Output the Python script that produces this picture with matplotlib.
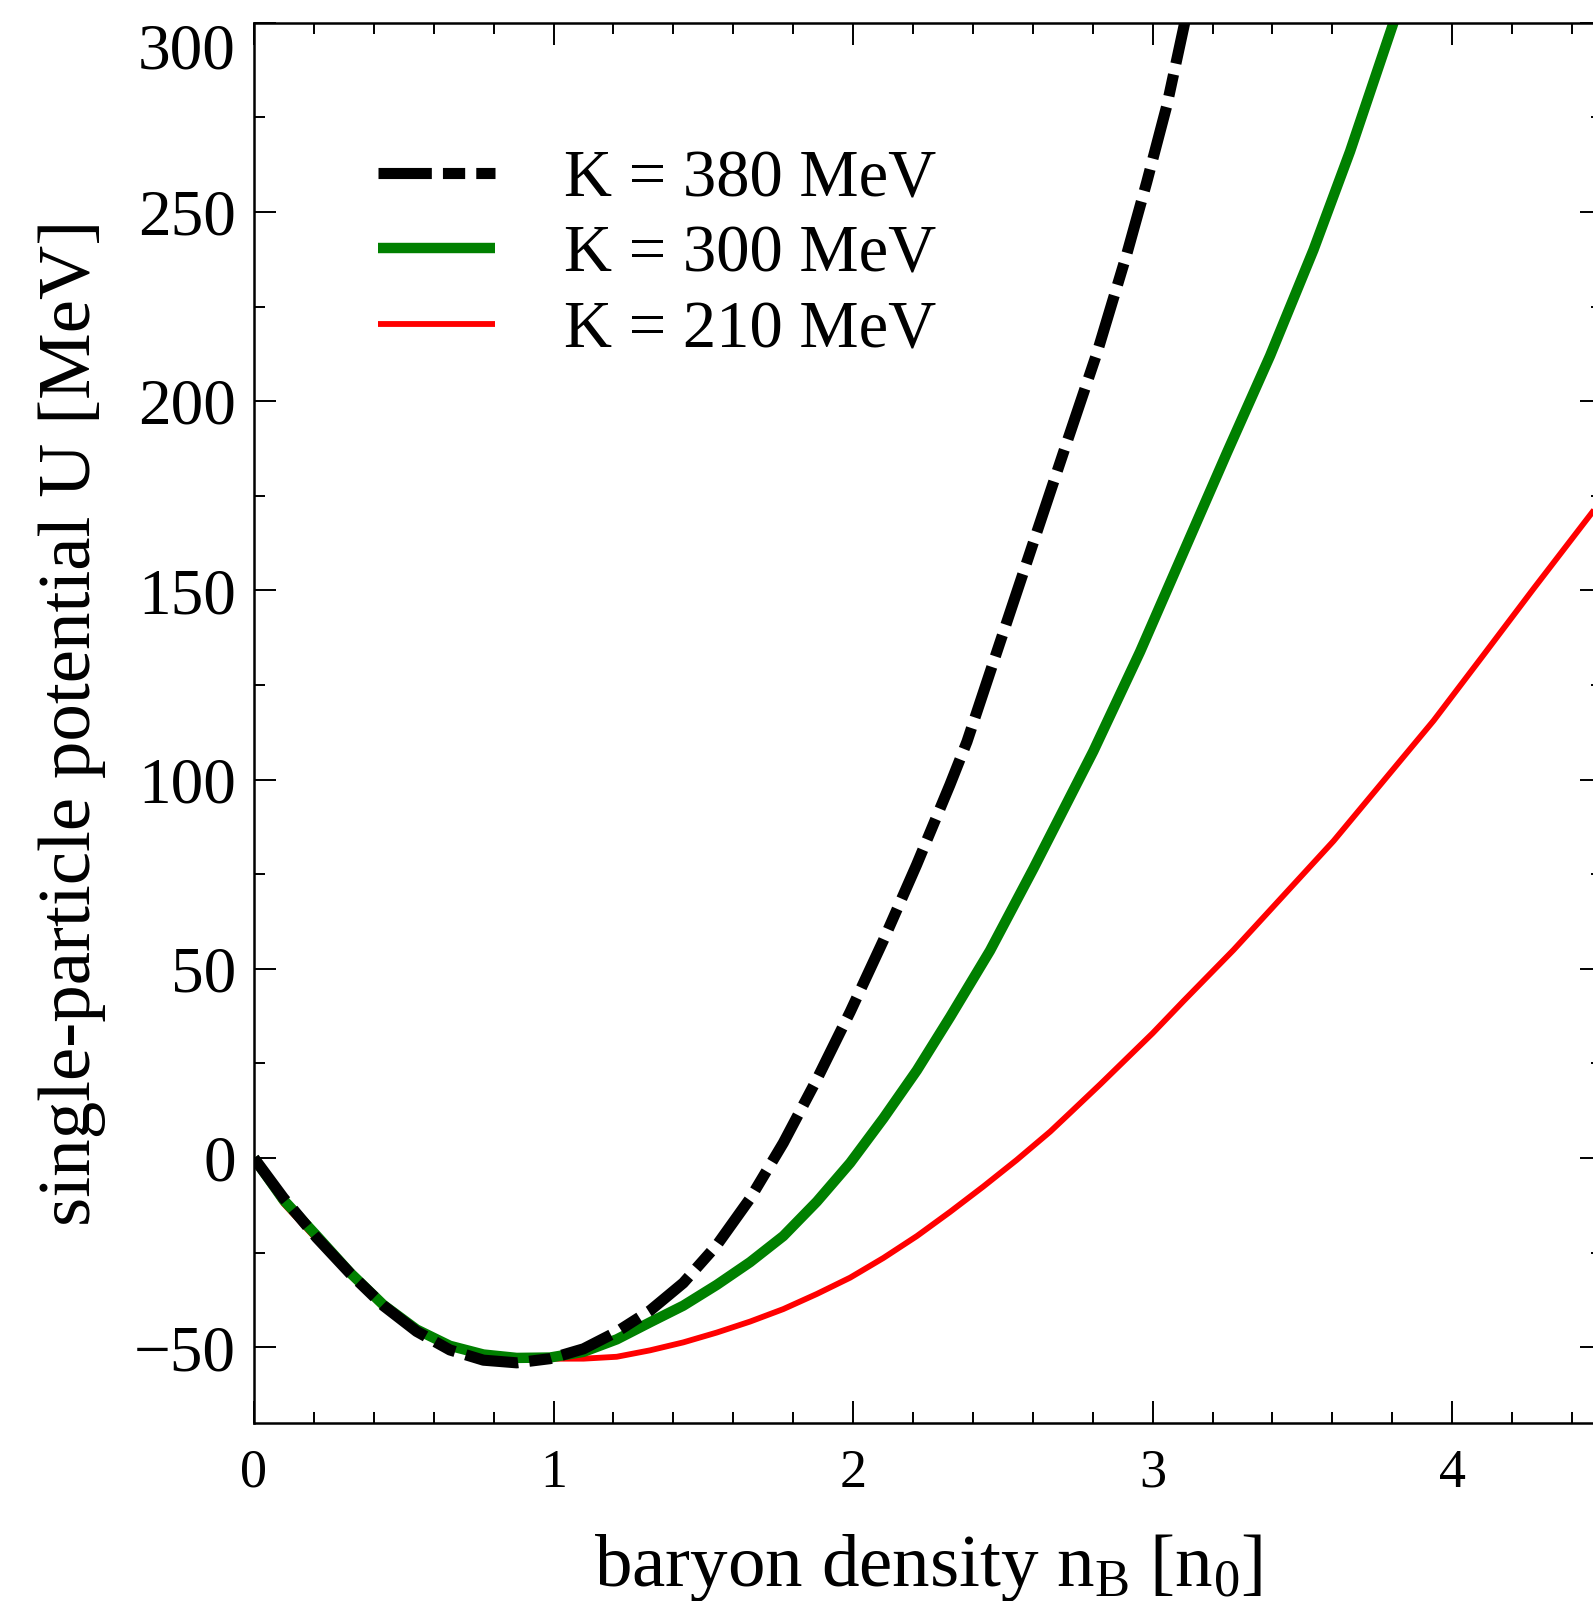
import matplotlib
matplotlib.use("Agg")
import matplotlib.pyplot as plt
from matplotlib.ticker import MultipleLocator

plt.rcParams['font.family'] = ['Liberation Serif', 'DejaVu Serif']
plt.rcParams['mathtext.fontset'] = 'custom'
plt.rcParams['mathtext.rm'] = 'Liberation Serif'
plt.rcParams['mathtext.it'] = 'Liberation Serif:italic'

# baryon density [n0] and single-particle potential U [MeV]
k380_n = [0, 0.098, 0.209, 0.321, 0.432, 0.543, 0.654, 0.766, 0.877, 0.988,
          1.100, 1.211, 1.322, 1.433, 1.545, 1.656, 1.767, 1.879, 1.990, 2.101,
          2.212, 2.323, 2.380, 2.480, 2.591, 2.702, 2.814, 2.914, 2.980, 3.047,
          3.107, 3.150]
k380_u = [0, -10.5, -21.0, -30.5, -39.0, -45.8, -50.7, -53.4, -54.1, -53.0,
          -50.4, -45.9, -40.3, -33.0, -23.0, -10.7, 4.0, 20.8, 38.6, 57.5,
          77.5, 98.6, 110.0, 133.8, 160.1, 186.4, 212.7, 239.0, 257.8, 278.0,
          300.0, 314.0]

k300_n = [0, 0.098, 0.209, 0.321, 0.432, 0.543, 0.654, 0.766, 0.877, 0.988,
          1.100, 1.211, 1.322, 1.433, 1.545, 1.656, 1.767, 1.879, 1.990, 2.101,
          2.213, 2.324, 2.457, 2.602, 2.802, 2.958, 3.103, 3.248, 3.392, 3.537,
          3.659, 3.804, 3.850]
k300_u = [0, -11.0, -20.5, -30.3, -38.8, -45.3, -49.6, -51.9, -52.8, -52.7,
          -51.2, -47.9, -43.4, -39.0, -33.5, -27.5, -20.6, -11.5, -1.3, 10.5,
          23.2, 37.3, 54.8, 76.5, 107.5, 133.8, 160.1, 186.4, 212.0, 240.0,
          266.0, 300.0, 311.0]

k210_n = [0, 0.098, 0.209, 0.321, 0.432, 0.543, 0.654, 0.766, 0.877, 0.988,
          1.100, 1.211, 1.322, 1.433, 1.545, 1.656, 1.767, 1.879, 1.990, 2.101,
          2.213, 2.324, 2.435, 2.546, 2.658, 2.725, 2.825, 3.0, 3.103, 3.270,
          3.437, 3.604, 3.771, 3.938, 4.105, 4.272, 4.471, 4.5]
k210_u = [0, -12.0, -21.5, -31.0, -39.5, -45.5, -49.4, -51.6, -52.6, -53.0,
          -53.0, -52.5, -50.8, -48.7, -46.1, -43.2, -39.9, -35.9, -31.6, -26.4,
          -20.6, -14.2, -7.5, -0.5, 7.0, 12.0, 19.5, 33.0, 41.5, 55.0,
          69.4, 83.8, 99.7, 115.6, 133.0, 150.5, 171.0, 174.0]

labels = ['K = 380 MeV', 'K = 300 MeV', 'K = 210 MeV']

W, H = 1593, 1601
fig = plt.figure(figsize=(W / 100, H / 100), dpi=100)
ax = fig.add_axes([254 / W, 178 / H, 1348 / W, 1400.3 / H])

# draw order: red at the back, black dash-dot on top
l210, = ax.plot(k210_n, k210_u, color='#ff0000', lw=4.2, solid_capstyle='butt')
l300, = ax.plot(k300_n, k300_u, color='#008000', lw=7.5, solid_capstyle='butt')
l380, = ax.plot(k380_n, k380_u, color='black', lw=8, dashes=(4.8, 1.0, 2.0, 1.0))

ax.set_xlim(0, 4.5)
ax.set_ylim(-70, 300)
ax.xaxis.set_major_locator(MultipleLocator(1))
ax.xaxis.set_minor_locator(MultipleLocator(0.2))
ax.yaxis.set_major_locator(MultipleLocator(50))
ax.yaxis.set_minor_locator(MultipleLocator(25))

ax.tick_params(which='both', direction='in', top=True, right=True, width=1.4)
ax.tick_params(which='major', length=15.8)
ax.tick_params(which='minor', length=8)
ax.tick_params(axis='x', labelsize=39, pad=18)
ax.tick_params(axis='y', labelsize=47, pad=13)
for s in ax.spines.values():
    s.set_linewidth(1.8)

ax.set_xlabel(r'baryon density n$_{\mathrm{B}}$ [n$_{\mathrm{0}}$]', fontsize=54, labelpad=24)
ax.set_ylabel('single-particle potential U [MeV]', fontsize=54, labelpad=20)

ax.legend([l380, l300, l210], labels, loc='upper left',
          bbox_to_anchor=(378 / W, 1 - 149 / H), bbox_transform=fig.transFigure,
          frameon=False, fontsize=48, handlelength=1.75, handletextpad=1.04,
          labelspacing=0.22, borderpad=0, borderaxespad=0)

# the top label sits below its tick so it stays inside the figure
fig.canvas.draw()
for lab in ax.get_yticklabels():
    if lab.get_text() == '300':
        lab.set_verticalalignment('top')

fig.savefig('out.png', dpi=100)
